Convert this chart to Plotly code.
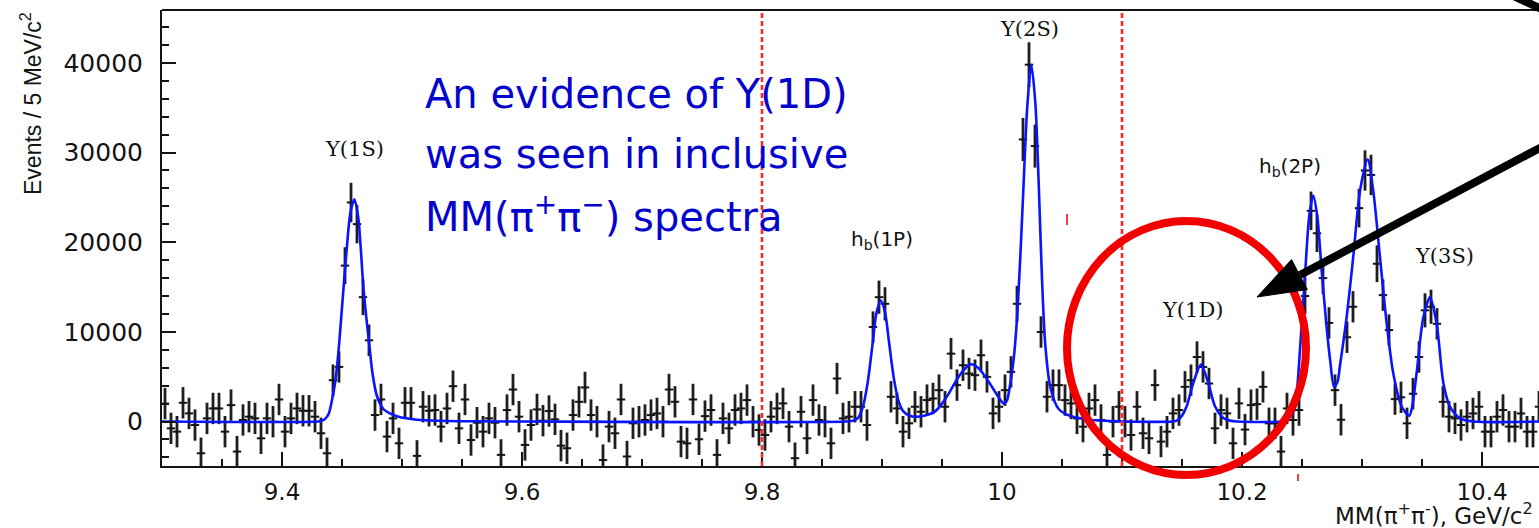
import plotly.graph_objects as go

# ---------------- histogram: MM(pi+ pi-) spectrum, 5 MeV bins ----------------
BIN_LO = 9.300     # GeV/c^2, lower edge of the first bin
BIN_W = 0.005      # GeV/c^2

counts = [
    2000, -760, -1130, 2090, 910, -390, -3540, 350, 1460, 1460,
    -1130, 1830, -3350, 170, 540, 350, -1870, 350, -20, 2460,
    -1130, 350, 1460, 1200, 1200, 540, -1310, -3540, 4610, 6090,
    17390, 24430, 22020, 13870, 9060, 720, 2460, -1680, 350, -2430,
    2090, 2090, -3830, 1650, 1200, 1280, -570, 1460, 3940, -760,
    2460, -2060, -130, -1130, 350, -130, -3720, 1280, 3570, 540,
    -2610, -390, 1350, 90, 1170, 240, -2690, -2980, 720, 2200,
    3800, 720, -20, -4300, -570, -1310, 2460, -3900, -200, -20,
    170, 720, 900, -20, 3570, 2200, -2240, -2430, 2460, -1980,
    600, 1280, -3720, 350, -760, 1280, 1460, 2390, -20, -940,
    -1500, 540, 1460, 2020, -570, -4090, 1090, -1870, 2390, 170,
    -20, -2430, 4800, 350, 540, 1650, 1650, -390, 10540, 13870,
    13130, 2760, 1460, -1130, -200, 1650, 1090, 2390, 2570, 3500,
    1650, 7570, 4060, 6280, 5350, 5170, 7390, 4980, 910, 1650,
    3500, 5540, 13130, 31460, 39800, 30720, 9980, 2760, 4060, 4060,
    2390, 2020, 350, -570, 1460, 2390, 170, -3720, -20, 1650,
    -20, -1500, 1650, -1310, -1870, 4060, -2240, -1130, 910, 1280,
    3870, 4610, 7200, 6090, 4240, -760, 1280, 910, -2430, 2020,
    -900, 1830, 1940, 3870, -200, -200, -3350, 1460, 170, 1280,
    14000, 23500, 21000, 16000, 11000, 3500, 200, 9400, 12800, 23800,
    28000, 27500, 17600, 14100, 10200, 2500, 2700, -200, 3100, 7200,
    12400, 12800, 10900, 2200, 540, 350, -390, 540, 900, 1650,
    -1130, -1130, 540, 1280, -570, -570, 900, -1130, -1130, 1650,
]

ERR = 1750  # typical error bar half-length
peak_errors = {30: 2050, 31: 2200, 32: 2150, 33: 2000, 119: 1850, 120: 1850,
               142: 2000, 143: 2400, 144: 2500, 145: 2400, 190: 2000,
               191: 2150, 192: 2100, 199: 2150, 200: 2250, 201: 2250,
               202: 2050, 210: 1900, 211: 1900}

# ---------------- fitted curve ----------------
fit_x = [
    9.300, 9.430, 9.433, 9.436, 9.439, 9.4415, 9.4442, 9.4465, 9.4483, 9.4511,
    9.4539, 9.457, 9.4603, 9.4635, 9.4655, 9.4678, 9.4705, 9.473, 9.4755, 9.479,
    9.4844, 9.490, 9.4956, 9.505, 9.5125, 9.530, 9.560, 9.600,
    9.870, 9.876, 9.880, 9.884, 9.888, 9.892, 9.8955, 9.899, 9.9025, 9.906,
    9.910, 9.914, 9.918, 9.923, 9.928, 9.935, 9.944, 9.950, 9.956, 9.962,
    9.9667, 9.9736, 9.980, 9.9861, 9.992, 9.9972, 10.0015, 10.004, 10.0065, 10.0097,
    10.0125, 10.0153, 10.018, 10.021, 10.0244, 10.0278, 10.0306, 10.0333, 10.0361, 10.0403,
    10.0472, 10.0583, 10.075, 10.092, 10.100,
    10.142, 10.1456, 10.1497, 10.1539, 10.1594, 10.1658, 10.1719, 10.1775, 10.1844, 10.190,
    10.196,
    10.232, 10.236, 10.240, 10.2428, 10.2455, 10.2483, 10.2525, 10.2561, 10.2594, 10.2628,
    10.2664, 10.2706, 10.2735, 10.2767, 10.2795, 10.2817, 10.2872, 10.2928, 10.2983, 10.3047,
    10.3094, 10.315, 10.3206, 10.3261, 10.3331, 10.3394, 10.342, 10.3456, 10.3511, 10.3567,
    10.3622, 10.3678, 10.3733, 10.3817, 10.3928, 10.4475,
]
fit_y = [
    0, 0, 80, 300, 900, 2300, 4300, 7000, 9800, 14600,
    19200, 23300, 24800, 22800, 19600, 15000, 11300, 8200, 5300, 2900,
    1400, 900, 600, 330, 200, 90, 30, 0,
    0, 100, 400, 1600, 4300, 8500, 12200, 13500, 12200, 8700,
    4700, 2200, 1100, 650, 540, 650, 1100, 2000, 3200, 4600,
    5500, 6380, 6000, 5000, 3800, 2700, 2000, 2300, 3900, 6900,
    11500, 18500, 26500, 35000, 39800, 35500, 26500, 16000, 8500, 3800,
    1400, 550, 180, 40, 0,
    0, 100, 600, 1700, 4300, 6350, 4300, 1700, 400, 100,
    0,
    0, 150, 500, 1100, 3000, 8000, 16300, 23000, 25200, 22800,
    16800, 10400, 6800, 3870, 4400, 6300, 11650, 18500, 25700, 29250,
    25700, 18300, 10900, 5350, 1650, 650, 1800, 5500, 11600, 13850,
    10900, 4300, 1650, 350, 0, 0,
]

peak_names = ["Υ(1S)", "Υ(2S)", "h<sub>b</sub>(1P)", "Υ(1D)", "h<sub>b</sub>(2P)", "Υ(3S)"]
boundaries = [9.8, 10.1]

# ---------------- figure geometry (pixels) ----------------
W, H = 1539, 528
L, R, T, B = 162, 0, 10, 62
PW, PH = W - L - R, H - T - B


def xp(px):
    return (px - L) / PW


def yp(py):
    return (H - B - py) / PH


x_centers = [BIN_LO + BIN_W * (i + 0.5) for i in range(len(counts))]
errs = [peak_errors.get(i, ERR) for i in range(len(counts))]

INK = "#141414"
fig = go.Figure()

fig.add_trace(go.Scatter(
    x=x_centers, y=counts, mode="markers",
    marker=dict(symbol="line-ew", size=6, color=INK, line=dict(width=2, color=INK)),
    error_y=dict(type="data", array=errs, visible=True, thickness=2.8, width=0, color="#1e1e1e"),
    hoverinfo="skip",
))

fig.add_trace(go.Scatter(
    x=fit_x, y=fit_y, mode="lines",
    line=dict(color="#0a14ff", width=2.6, shape="spline", smoothing=0.8),
    hoverinfo="skip",
))

shapes = []
for xb in boundaries:
    shapes.append(dict(type="line", xref="x", yref="paper", x0=xb, x1=xb, y0=0, y1=1,
                       line=dict(color="#ff2a2a", width=2.6, dash="5px,3px"), layer="above"))

# top frame line
shapes.append(dict(type="line", xref="paper", yref="paper", x0=0, x1=1.01, y0=1, y1=1,
                   line=dict(color=INK, width=2)))

# red ring around the Y(1D) region
shapes.append(dict(type="circle", xref="paper", yref="paper",
                   x0=xp(1067), x1=xp(1306), y0=yp(475), y1=yp(221),
                   line=dict(color="#f20000", width=8), layer="above"))
# small red marks
shapes.append(dict(type="line", xref="paper", yref="paper", x0=xp(1067), x1=xp(1067),
                   y0=yp(214), y1=yp(225), line=dict(color="#f20000", width=1.5)))
shapes.append(dict(type="line", xref="paper", yref="paper", x0=xp(1298), x1=xp(1298),
                   y0=yp(474), y1=yp(481), line=dict(color="#f20000", width=1.5)))

# black pointer arrow
tip = (1257, 297)
c1 = (1307.3, 289.6)
c2 = (1291.5, 259.6)
shapes.append(dict(type="line", xref="paper", yref="paper",
                   x0=xp(1570), y0=yp(132), x1=xp(1300), y1=yp(275),
                   line=dict(color="black", width=8), layer="above"))
shapes.append(dict(type="path", xref="paper", yref="paper",
                   path="M {} {} L {} {} L {} {} Z".format(xp(tip[0]), yp(tip[1]), xp(c1[0]), yp(c1[1]),
                                                         xp(c2[0]), yp(c2[1])),
                   fillcolor="black", line=dict(color="black", width=1), layer="above"))
# second pointer entering at the top-right corner
shapes.append(dict(type="line", xref="paper", yref="paper",
                   x0=xp(1505), y0=yp(-8), x1=xp(1548), y1=yp(12),
                   line=dict(color="black", width=8), layer="above"))

annotations = []
label_pos = [(9.4608, 30400), (10.0233, 43800), (9.900, 20200),
             (10.159, 12400), (10.240, 28400), (10.369, 18500)]
for name, (lx, ly) in zip(peak_names, label_pos):
    serif = name.startswith("Υ")
    annotations.append(dict(
        x=lx, y=ly, xref="x", yref="y", text=name, showarrow=False,
        font=dict(family="DejaVu Serif" if serif else "DejaVu Sans", size=21 if serif else 20,
                  color="#111111"),
        xanchor="center", yanchor="middle"))

blue_lines = ["An evidence of Υ(1D)", "was seen in inclusive",
              "MM(π<sup>+</sup>π<sup>−</sup>) spectra"]
for k, txt in enumerate(blue_lines):
    annotations.append(dict(
        x=xp(423), y=yp(94 + 60 * k), xref="paper", yref="paper", text=txt, showarrow=False,
        font=dict(family="DejaVu Sans", size=40, color="#0404cc"),
        xanchor="left", yanchor="middle", align="left"))

# axis titles
annotations.append(dict(
    x=xp(31), y=yp(104), xref="paper", yref="paper", text="Events / 5 MeV/c<sup>2</sup>",
    showarrow=False, textangle=-90, font=dict(family="Liberation Sans", size=23, color=INK),
    xanchor="center", yanchor="middle"))
annotations.append(dict(
    x=xp(1535), y=yp(514), xref="paper", yref="paper",
    text="MM(π<sup>+</sup>π<sup>-</sup>), GeV/c<sup>2</sup>",
    showarrow=False, font=dict(family="DejaVu Sans", size=23, color=INK),
    xanchor="right", yanchor="middle"))

fig.update_layout(
    width=W, height=H, margin=dict(l=L, r=R, t=T, b=B, pad=0),
    paper_bgcolor="white", plot_bgcolor="white", showlegend=False,
    shapes=shapes, annotations=annotations,
)

fig.update_xaxes(
    range=[BIN_LO, BIN_LO + PW / 1200.0], showline=True, linecolor=INK, linewidth=2,
    ticks="inside", ticklen=14, tickwidth=1.6, tickcolor=INK, tick0=9.4, dtick=0.2,
    showgrid=False, zeroline=False, ticklabelstandoff=4,
    tickfont=dict(family="DejaVu Sans", size=23, color=INK),
    minor=dict(tick0=9.3, dtick=0.05, ticks="inside", ticklen=7, tickwidth=1.6,
               tickcolor=INK, showgrid=False),
)
fig.update_yaxes(
    range=[-4960, 45900], showline=True, linecolor=INK, linewidth=2,
    ticks="inside", ticklen=14, tickwidth=1.6, tickcolor=INK, tick0=0, dtick=10000,
    tickformat="d", showgrid=False, zeroline=False, ticklabelstandoff=12,
    tickfont=dict(family="DejaVu Sans", size=25, color=INK),
    minor=dict(dtick=2000, ticks="inside", ticklen=7, tickwidth=1.6, tickcolor=INK,
               showgrid=False),
)

fig.write_html("out.html")
